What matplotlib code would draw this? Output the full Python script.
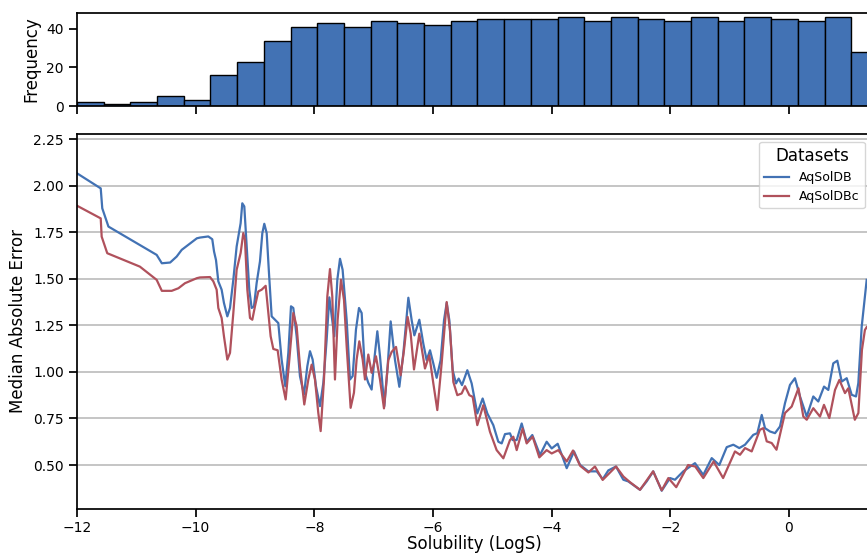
"""Solubility histogram + median absolute error curves for AqSolDB / AqSolDBc."""
import numpy as np
import matplotlib
matplotlib.use("Agg")
import matplotlib.pyplot as plt

# --- data ------------------------------------------------------------------
bin_edges = np.linspace(-12.0, 1.5, 31)
bin_counts = [2, 1, 2, 5, 3, 16, 23, 34, 41, 43, 41, 44, 43, 42, 44,
              45, 45, 45, 46, 44, 46, 45, 44, 46, 44, 46, 45, 44, 46, 28]

aqsoldb_x = [-12.0, -11.60, -11.574, -11.47, -10.657, -10.57, -10.43, -10.32, -10.235,
             -9.98, -9.927, -9.787, -9.72, -9.69, -9.657, -9.618, -9.562, -9.523,
             -9.466, -9.421, -9.365, -9.309, -9.242, -9.214, -9.18, -9.14, -9.096,
             -9.056, -9.017, -8.972, -8.916, -8.876, -8.843, -8.803, -8.764, -8.719,
             -8.663, -8.607, -8.551, -8.489, -8.438, -8.393, -8.354, -8.298, -8.242,
             -8.174, -8.118, -8.073, -8.028, -7.972, -7.905, -7.848, -7.792, -7.747,
             -7.663, -7.612, -7.567, -7.523, -7.455, -7.399, -7.354, -7.298, -7.247,
             -7.202, -7.146, -7.09, -7.034, -6.989, -6.938, -6.893, -6.82, -6.764,
             -6.713, -6.64, -6.567, -6.5, -6.415, -6.359, -6.314, -6.23, -6.163,
             -6.107, -6.05, -5.994, -5.938, -5.871, -5.814, -5.769, -5.724, -5.668,
             -5.612, -5.567, -5.511, -5.421, -5.348, -5.253, -5.163, -5.084, -4.983,
             -4.899, -4.842, -4.786, -4.702, -4.657, -4.589, -4.505, -4.421, -4.326,
             -4.196, -4.084, -3.999, -3.898, -3.746, -3.623, -3.522, -3.382, -3.24,
             -3.139, -3.045, -2.915, -2.792, -2.708, -2.511, -2.398, -2.287, -2.145,
             -2.005, -1.921, -1.781, -1.584, -1.444, -1.302, -1.174, -1.049, -0.938,
             -0.837, -0.741, -0.601, -0.533, -0.459, -0.404, -0.32, -0.235, -0.151,
             -0.067, 0.017, 0.101, 0.186, 0.299, 0.41, 0.494, 0.591, 0.663, 0.747,
             0.815, 0.889, 0.973, 1.057, 1.13, 1.169, 1.226, 1.31]
aqsoldb_mae = [2.066, 1.985, 1.878, 1.780, 1.628, 1.583, 1.587, 1.619, 1.655,
               1.717, 1.721, 1.727, 1.712, 1.646, 1.60, 1.486, 1.441, 1.37,
               1.298, 1.343, 1.495, 1.673, 1.798, 1.905, 1.888, 1.673, 1.441,
               1.343, 1.352, 1.477, 1.593, 1.745, 1.795, 1.745, 1.530, 1.298,
               1.28, 1.262, 1.066, 0.923, 1.102, 1.352, 1.343, 1.191, 0.977,
               0.879, 1.03, 1.111, 1.066, 0.923, 0.816, 0.941, 1.173, 1.40,
               1.191, 1.495, 1.607, 1.548, 1.28, 0.959, 0.977, 1.227, 1.343,
               1.316, 0.995, 0.941, 0.905, 1.066, 1.218, 1.084, 0.816, 1.03,
               1.271, 1.063, 0.92, 1.098, 1.398, 1.277, 1.196, 1.28, 1.152,
               1.063, 1.116, 1.045, 0.968, 1.063, 1.277, 1.37, 1.277, 1.009,
               0.938, 0.964, 0.929, 1.009, 0.938, 0.777, 0.857, 0.777, 0.714,
               0.625, 0.616, 0.666, 0.67, 0.634, 0.634, 0.723, 0.625, 0.661,
               0.554, 0.625, 0.589, 0.614, 0.483, 0.573, 0.501, 0.466, 0.466,
               0.424, 0.471, 0.492, 0.421, 0.412, 0.367, 0.412, 0.466, 0.362,
               0.43, 0.421, 0.466, 0.51, 0.447, 0.537, 0.50, 0.596, 0.609,
               0.591, 0.609, 0.662, 0.671, 0.769, 0.698, 0.68, 0.671, 0.707,
               0.832, 0.93, 0.966, 0.868, 0.76, 0.868, 0.841, 0.921, 0.903, 1.046,
               1.06, 0.948, 0.966, 0.877, 0.868, 0.94, 1.243, 1.494]

aqsoldbc_x = [-12.0, -11.60, -11.584, -11.49, -10.94, -10.657, -10.57, -10.404, -10.29,
              -10.18, -9.98, -9.927, -9.758, -9.702, -9.646, -9.618, -9.562, -9.523,
              -9.466, -9.421, -9.365, -9.309, -9.242, -9.197, -9.169, -9.129, -9.084,
              -9.045, -9.0, -8.944, -8.888, -8.82, -8.775, -8.736, -8.691, -8.618,
              -8.551, -8.483, -8.421, -8.354, -8.298, -8.242, -8.169, -8.101, -8.045,
              -7.989, -7.933, -7.893, -7.837, -7.781, -7.736, -7.697, -7.652, -7.607,
              -7.551, -7.5, -7.455, -7.388, -7.332, -7.287, -7.242, -7.185, -7.146,
              -7.09, -7.034, -6.961, -6.893, -6.826, -6.753, -6.697, -6.623, -6.545,
              -6.489, -6.427, -6.376, -6.32, -6.23, -6.135, -6.062, -5.994, -5.927,
              -5.854, -5.769, -5.713, -5.657, -5.59, -5.517, -5.46, -5.387, -5.331,
              -5.253, -5.152, -5.04, -4.927, -4.814, -4.702, -4.646, -4.589, -4.489,
              -4.421, -4.32, -4.208, -4.084, -3.999, -3.887, -3.746, -3.64, -3.52,
              -3.38, -3.27, -3.14, -2.915, -2.79, -2.68, -2.51, -2.29, -2.145, -2.033,
              -1.90, -1.70, -1.58, -1.444, -1.27, -1.11, -0.91, -0.825, -0.74, -0.628,
              -0.49, -0.433, -0.375, -0.291, -0.21, -0.067, 0.046, 0.16, 0.242, 0.30,
              0.41, 0.523, 0.59, 0.68, 0.776, 0.85, 0.944, 1.00, 1.11, 1.17, 1.23,
              1.28, 1.31]
aqsoldbc_mae = [1.892, 1.824, 1.726, 1.637, 1.565, 1.494, 1.435, 1.435, 1.449,
                1.476, 1.503, 1.507, 1.509, 1.486, 1.441, 1.343, 1.289, 1.191,
                1.066, 1.102, 1.316, 1.548, 1.638, 1.745, 1.709, 1.441, 1.289,
                1.28, 1.352, 1.432, 1.441, 1.462, 1.316, 1.191, 1.123, 1.116,
                0.959, 0.852, 1.066, 1.316, 1.245, 1.03, 0.825, 0.959, 1.039,
                0.959, 0.780, 0.682, 0.959, 1.405, 1.552, 1.405, 0.959, 1.280,
                1.495, 1.387, 1.138, 0.807, 0.888, 1.066, 1.164, 1.066, 0.959,
                1.093, 0.995, 1.084, 0.959, 0.804, 1.063, 1.107, 1.134, 0.982,
                1.116, 1.295, 1.205, 1.013, 1.205, 1.018, 1.089, 0.938, 0.795,
                1.045, 1.375, 1.223, 0.946, 0.875, 0.884, 0.923, 0.875, 0.866,
                0.714, 0.821, 0.679, 0.58, 0.536, 0.634, 0.652, 0.58, 0.696,
                0.616, 0.652, 0.541, 0.58, 0.562, 0.58, 0.519, 0.578, 0.496,
                0.46, 0.492, 0.42, 0.492, 0.438, 0.408, 0.367, 0.466, 0.364, 0.43,
                0.381, 0.50, 0.492, 0.43, 0.519, 0.43, 0.573, 0.555, 0.591, 0.573,
                0.689, 0.698, 0.627, 0.618, 0.582, 0.779, 0.814, 0.912, 0.76, 0.743,
                0.805, 0.76, 0.823, 0.752, 0.903, 0.957, 0.886, 0.912, 0.743, 0.779, 1.118,
                1.225, 1.24]

yticks = [0.50, 0.75, 1.00, 1.25, 1.50, 1.75, 2.00, 2.25]
xticks = [-12, -10, -8, -6, -4, -2, 0]

BLUE = "#4272b4"
RED = "#b0515c"

plt.rcParams.update({
    "font.family": ["DejaVu Sans"],
    "axes.linewidth": 1.25,
    "xtick.major.size": 6, "ytick.major.size": 6,
    "xtick.major.width": 1.25, "ytick.major.width": 1.25,
    "xtick.major.pad": 2.5,
    "xtick.labelsize": 10, "ytick.labelsize": 10,
    "axes.labelsize": 12,
})

fig = plt.figure(figsize=(8.67, 5.53), dpi=100)
# right edge deliberately a touch past the canvas, the reference is cropped there
ax_h = fig.add_axes([0.0888, 0.8083, 0.9170, 0.1682])
ax = fig.add_axes([0.0888, 0.0796, 0.9170, 0.6781])

# top: frequency histogram
ax_h.hist(bin_edges[:-1], bins=bin_edges, weights=bin_counts,
          color=BLUE, edgecolor="black", linewidth=1.0)
ax_h.set_xlim(-12, 1.40)
ax_h.set_xticks(xticks)
ax_h.set_xticklabels([])
ax_h.set_yticks([0, 20, 40])
ax_h.set_ylabel("Frequency")

# bottom: median absolute error per solubility
ax.yaxis.grid(True, color="#c0c0c0", linewidth=1.3)
ax.set_axisbelow(True)
ax.plot(aqsoldb_x, aqsoldb_mae, color=BLUE, lw=1.6, label="AqSolDB")
ax.plot(aqsoldbc_x, aqsoldbc_mae, color=RED, lw=1.6, label="AqSolDBc")
ax.set_xlim(-12, 1.40)
ax.set_ylim(0.264, 2.277)
ax.set_yticks(yticks)
ax.set_xticks(xticks)
ax.set_xlabel("Solubility (LogS)", fontsize=12, labelpad=0)
ax.set_ylabel("Median Absolute Error")

ax.legend(title="Datasets", loc="upper right", bbox_to_anchor=(0.991, 0.979),
          borderaxespad=0, fontsize=9, title_fontsize=12,
          handlelength=2.0, fancybox=True, framealpha=0.8)

fig.savefig("out.png", dpi=100)
